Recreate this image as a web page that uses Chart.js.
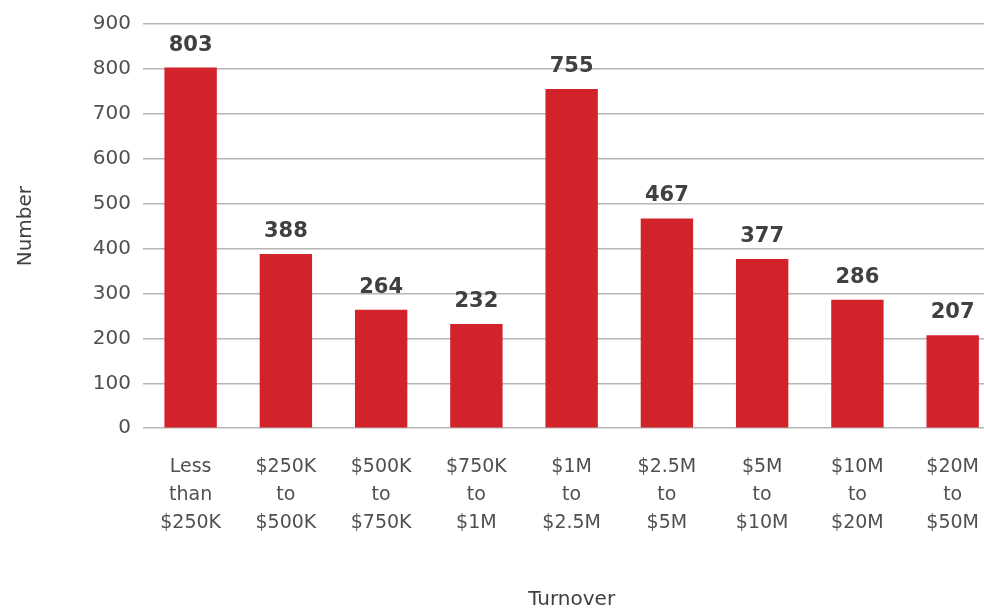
<!DOCTYPE html>
<html>
<head>
<meta charset="utf-8">
<script src="https://cdn.jsdelivr.net/npm/chart.js@4"></script>
<style>
  html, body { margin: 0; padding: 0; background: #fff; overflow: hidden; }
  #wrap { width: 1004px; height: 608px; }
</style>
</head>
<body>
<div id="wrap"><canvas id="c" width="1004" height="608"></canvas></div>
<script>
// Businesses by turnover band
const categories = [
  ['Less', 'than', '$250K'],
  ['$250K', 'to', '$500K'],
  ['$500K', 'to', '$750K'],
  ['$750K', 'to', '$1M'],
  ['$1M', 'to', '$2.5M'],
  ['$2.5M', 'to', '$5M'],
  ['$5M', 'to', '$10M'],
  ['$10M', 'to', '$20M'],
  ['$20M', 'to', '$50M']
];
const counts = [803, 388, 264, 232, 755, 467, 377, 286, 207];
const yTicks = [0, 100, 200, 300, 400, 500, 600, 700, 800, 900];

const FONT = '"DejaVu Sans", "Open Sans", sans-serif';

// Writes each bar's value just above it
const valueLabels = {
  id: 'valueLabels',
  afterDatasetsDraw(chart) {
    const ctx = chart.ctx;
    const meta = chart.getDatasetMeta(0);
    const data = chart.data.datasets[0].data;
    ctx.save();
    ctx.font = 'bold 21px ' + FONT;
    ctx.fillStyle = '#404040';
    ctx.textAlign = 'center';
    ctx.textBaseline = 'alphabetic';
    meta.data.forEach((bar, i) => {
      ctx.fillText(String(data[i]), bar.x, bar.y - 17);
    });
    ctx.restore();
  }
};

new Chart(document.getElementById('c'), {
  type: 'bar',
  data: {
    labels: categories,
    datasets: [{
      data: counts,
      backgroundColor: '#d2232b',
      barPercentage: 0.55,
      categoryPercentage: 1.0
    }]
  },
  options: {
    responsive: false,
    animation: false,
    layout: { padding: { top: 12, right: 0, bottom: 0, left: 0 } },
    plugins: { legend: { display: false }, tooltip: { enabled: false } },
    scales: {
      x: {
        grid: { display: false, drawTicks: false },
        border: { display: false },
        ticks: {
          color: '#505050',
          font: { family: FONT, size: 19, lineHeight: 1.47 },
          padding: 25,
          maxRotation: 0,
          autoSkip: false
        },
        title: {
          display: true,
          text: 'Turnover',
          color: '#404040',
          font: { family: FONT, size: 20 },
          padding: { top: 26, bottom: -4 }
        }
      },
      y: {
        min: 0,
        max: 900,
        afterBuildTicks(axis) { axis.ticks = yTicks.map(v => ({ value: v })); },
        afterFit(axis) { axis.width = 143; },
        grid: { color: '#b5b5b5', lineWidth: 1.5, drawTicks: false },
        border: { display: false },
        ticks: {
          color: '#505050',
          font: { family: FONT, size: 20 },
          padding: 12
        },
        title: {
          display: true,
          text: 'Number',
          color: '#404040',
          font: { family: FONT, size: 20 },
          padding: { top: 14, bottom: 0 }
        }
      }
    }
  },
  plugins: [valueLabels]
});
</script>
</body>
</html>
